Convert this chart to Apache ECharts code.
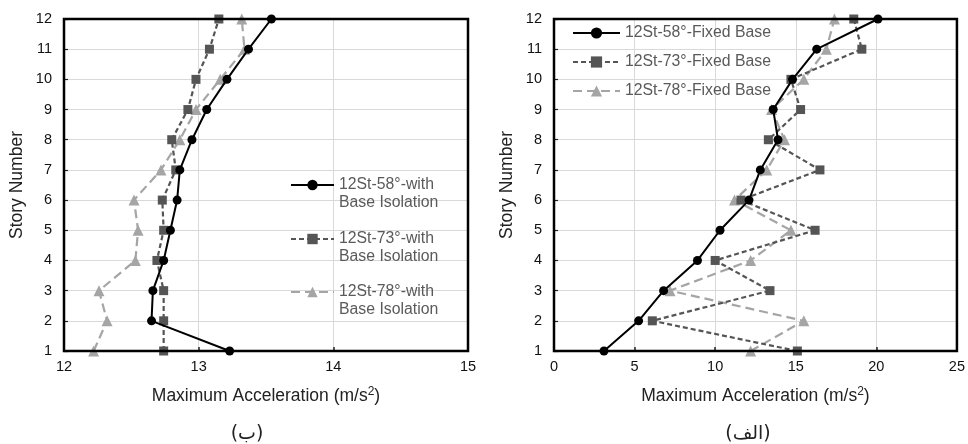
<!DOCTYPE html>
<html>
<head>
<meta charset="utf-8">
<script src="https://cdn.jsdelivr.net/npm/echarts@6/dist/echarts.min.js"></script>
<style>
  html, body { margin: 0; padding: 0; background: #fff; }
  #chart { width: 968px; height: 444px; }
</style>
</head>
<body>
<div id="chart"></div>
<script>
// story numbers (y axis)
var stories = [1, 2, 3, 4, 5, 6, 7, 8, 9, 10, 11, 12];

// left panel (ب) - with base isolation
var iso58 = [13.23, 12.65, 12.66, 12.74, 12.79, 12.84, 12.86, 12.95, 13.06, 13.21, 13.37, 13.54];
var iso73 = [12.74, 12.74, 12.74, 12.69, 12.74, 12.73, 12.83, 12.80, 12.92, 12.98, 13.08, 13.15];
var iso78 = [12.22, 12.32, 12.26, 12.53, 12.55, 12.52, 12.72, 12.86, 12.98, 13.16, 13.34, 13.32];

// right panel (الف) - fixed base
var fix58 = [3.1, 5.25, 6.8, 8.9, 10.3, 12.1, 12.8, 13.9, 13.6, 14.8, 16.3, 20.1];
var fix73 = [15.1, 6.1, 13.4, 10.0, 16.2, 11.6, 16.5, 13.3, 15.3, 14.7, 19.1, 18.6];
var fix78 = [12.2, 15.5, 7.2, 12.2, 14.7, 11.2, 13.2, 14.3, 13.5, 15.5, 16.9, 17.4];

var isoNames = ['12St-58°-with\nBase Isolation', '12St-73°-with\nBase Isolation', '12St-78°-with\nBase Isolation'];
var fixNames = ['12St-58°-Fixed Base', '12St-73°-Fixed Base', '12St-78°-Fixed Base'];

var leftTicks = [12, 13, 14, 15];
var rightTicks = [0, 5, 10, 15, 20, 25];

var FONT = 'Liberation Sans, Arial, sans-serif';

function pairs(xs){
    return xs.map(function(v, i){ return [v, stories[i]]; });
}

var styles = [
    {color: '#000000', symbol: 'circle', symbolSize: 9, type: 'solid', width: 2},
    {color: '#555555', symbol: 'rect', symbolSize: 9, type: [5, 3], width: 2.2},
    {color: '#a5a5a5', symbol: 'triangle', symbolSize: 11, type: [9, 5], width: 2.2}
];

function makeSeries(name, vals, k, idx){
    var st = styles[k];
    return {
        name: name,
        type: 'line',
        xAxisIndex: idx,
        yAxisIndex: idx,
        data: pairs(vals),
        symbol: st.symbol,
        symbolSize: st.symbolSize,
        showAllSymbol: true,
        itemStyle: {color: st.color},
        lineStyle: {color: st.color, width: st.width, type: st.type},
        z: 3 - k,
        animation: false
    };
}

function xAxisFor(idx, mn, mx, step){
    return {
        type: 'value', gridIndex: idx, min: mn, max: mx, interval: step,
        name: '{a|Maximum Acceleration (m/s}{s|2}{a|)}',
        nameLocation: 'middle', nameGap: 35,
        nameTextStyle: {
            rich: {
                a: {fontFamily: FONT, fontSize: 17.5, color: '#222'},
                s: {fontFamily: FONT, fontSize: 12, color: '#222', verticalAlign: 'top', padding: [0, 0, 9, 0]}
            }
        },
        axisLine: {show: false},
        axisTick: {show: true, inside: true, length: 4, lineStyle: {color: '#222', width: 1.5}},
        axisLabel: {fontFamily: FONT, fontSize: 14.5, color: '#111', margin: 8},
        splitLine: {show: true, lineStyle: {color: '#d9d9d9', width: 1}}
    };
}

function yAxisFor(idx){
    return {
        type: 'value', gridIndex: idx, min: 1, max: 12, interval: 1,
        name: 'Story Number', nameLocation: 'middle', nameGap: 38,
        nameTextStyle: {fontFamily: FONT, fontSize: 17.5, color: '#222'},
        axisLine: {show: false},
        axisTick: {show: true, inside: true, length: 4, lineStyle: {color: '#222', width: 1.2}},
        axisLabel: {fontFamily: FONT, fontSize: 14.5, color: '#111', margin: 12},
        splitLine: {show: true, lineStyle: {color: '#d9d9d9', width: 1}}
    };
}

// blank first line keeps the legend icon level with the first text line
function isoLegend(name, top){
    return {
        data: [name],
        left: 290, top: top,
        padding: 0,
        itemWidth: 43, itemHeight: 13, itemGap: 0,
        formatter: function(n){ return ' \n' + n; },
        textStyle: {fontFamily: FONT, fontSize: 15.8, color: '#5a5a5a', lineHeight: 18}
    };
}

var chart = echarts.init(document.getElementById('chart'));

var option = {
    backgroundColor: '#fff',
    animation: false,
    grid: [
        {left: 64, right: 500, top: 19, bottom: 93, show: true, borderColor: '#000', borderWidth: 2.5, backgroundColor: 'transparent', z: 4},
        {left: 554, right: 10, top: 19, bottom: 93, show: true, borderColor: '#000', borderWidth: 2.5, backgroundColor: 'transparent', z: 4}
    ],
    xAxis: [
        xAxisFor(0, leftTicks[0], leftTicks[leftTicks.length - 1], leftTicks[1] - leftTicks[0]),
        xAxisFor(1, rightTicks[0], rightTicks[rightTicks.length - 1], rightTicks[1] - rightTicks[0])
    ],
    yAxis: [yAxisFor(0), yAxisFor(1)],
    legend: [
        isoLegend(isoNames[0], 158),
        isoLegend(isoNames[1], 212),
        isoLegend(isoNames[2], 265),
        {
            data: fixNames,
            orient: 'vertical',
            left: 572, top: 25, padding: 0,
            itemWidth: 47, itemHeight: 14, itemGap: 13,
            textStyle: {fontFamily: FONT, fontSize: 15.8, color: '#5a5a5a'}
        }
    ],
    series: [
        makeSeries(isoNames[0], iso58, 0, 0),
        makeSeries(isoNames[1], iso73, 1, 0),
        makeSeries(isoNames[2], iso78, 2, 0),
        makeSeries(fixNames[0], fix58, 0, 1),
        makeSeries(fixNames[1], fix73, 1, 1),
        makeSeries(fixNames[2], fix78, 2, 1)
    ],
    graphic: [
        {type: 'text', x: 247, y: 434, style: {text: '(ب)', font: '19px "DejaVu Sans"', fill: '#222', align: 'center', verticalAlign: 'middle'}},
        {type: 'text', x: 748, y: 434, style: {text: '(الف)', font: '19px "DejaVu Sans"', fill: '#222', align: 'center', verticalAlign: 'middle'}}
    ]
};

chart.setOption(option);
</script>
</body>
</html>
